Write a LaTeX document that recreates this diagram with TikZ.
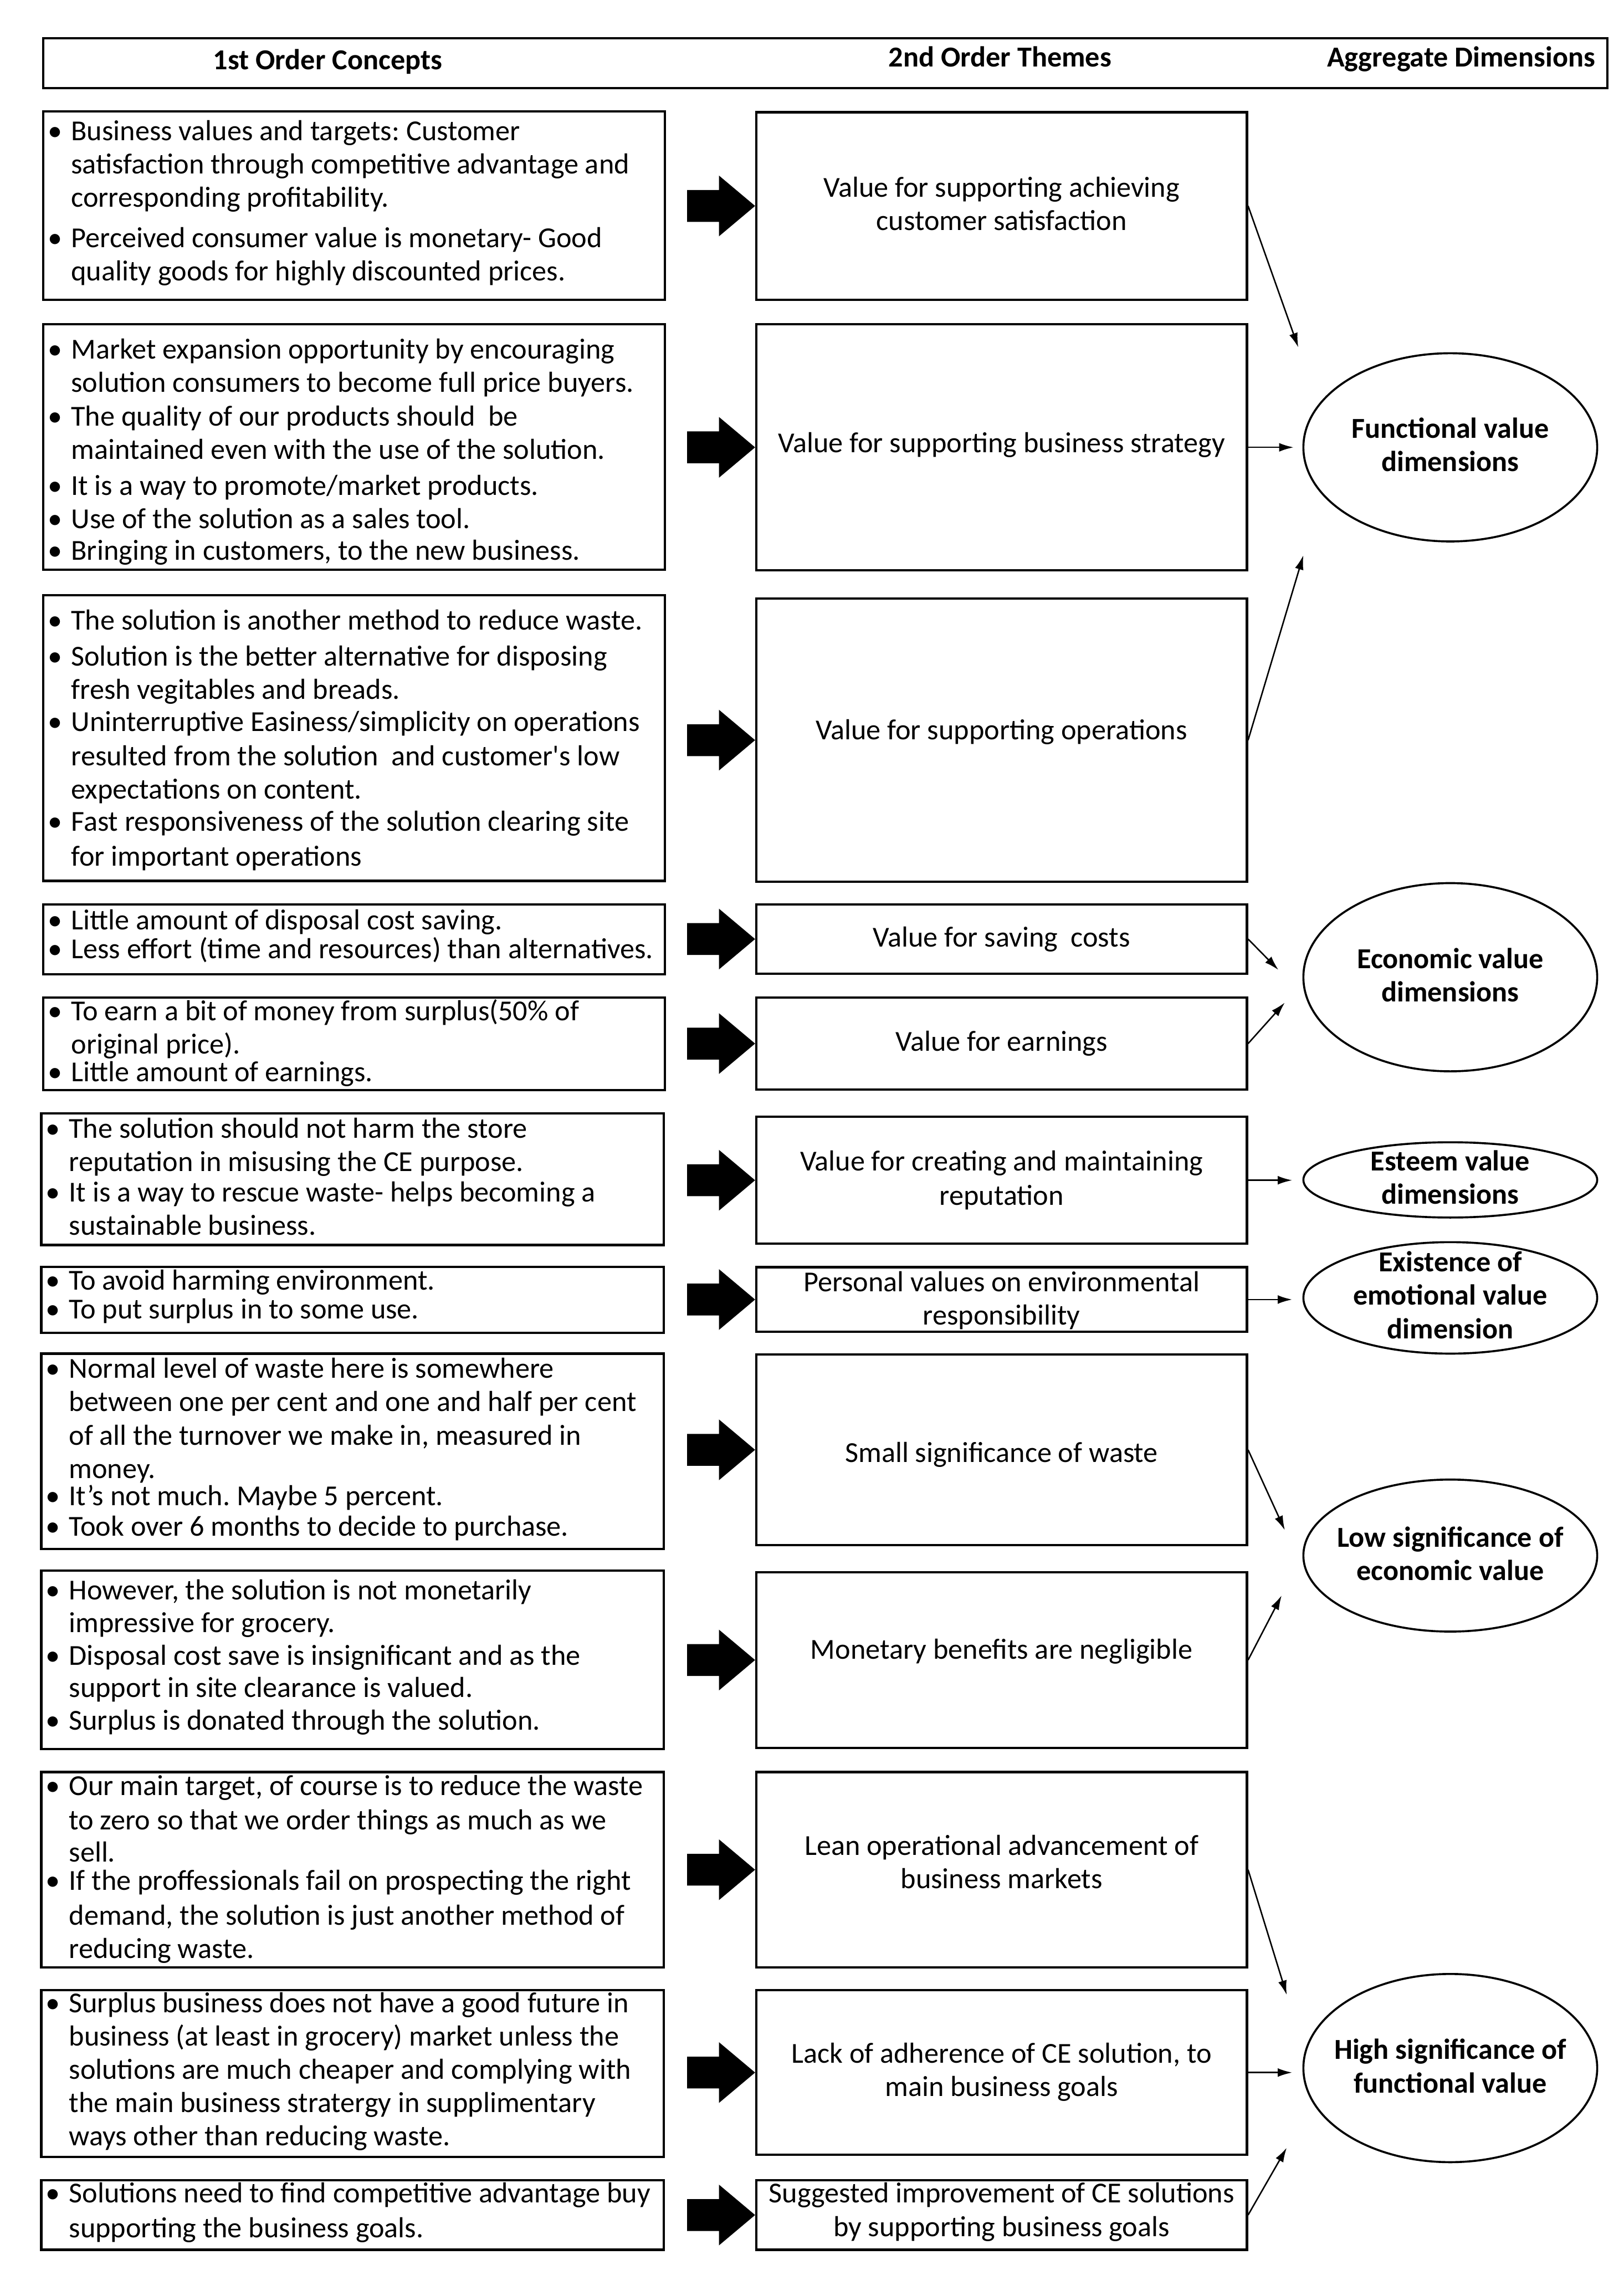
\documentclass[tikz,border=0pt]{standalone}
\usepackage{fontspec}
\setmainfont{Carlito}
\frenchspacing
\usetikzlibrary{arrows.meta,fit,shapes.geometric,calc}
\newcommand\bulit{\makebox[16pt][l]{\textbullet}}
\newcommand\contind{\hspace*{16pt}}
\newcommand\bigarrow[1]{\fill ($(#1.west)+(-47,-11)$) -- ($(#1.west)+(-25,-11)$) -- ($(#1.west)+(-25,-21)$) -- (#1.west) -- ($(#1.west)+(-25,21)$) -- ($(#1.west)+(-25,11)$) -- ($(#1.west)+(-47,11)$) -- cycle;}
\begin{document}
\begin{tikzpicture}[x=1pt,y=-1pt,
  bx/.style={draw, line width=1.6pt, inner sep=0pt, rectangle},
  lt/.style={anchor=base west, inner sep=0pt, text width=450pt, align=flush left, font=\frenchspacing\fontsize{20}{23}\selectfont},
  mt/.style={anchor=base, inner sep=0pt, text width=360pt, align=flush center, font=\frenchspacing\fontsize{20}{23}\selectfont},
  et/.style={anchor=base, inner sep=0pt, text width=200pt, align=flush center, font=\frenchspacing\bfseries\fontsize{20}{23}\selectfont},
  hd/.style={anchor=base, inner sep=0pt, font=\bfseries\fontsize{20}{23}\selectfont},
  el/.style={draw, ellipse, line width=1.4pt, inner sep=0pt, minimum width=203pt},
  con/.style={line width=1pt, -{Latex[length=10pt,width=6pt]}}
]
\fill[white] (0,0) rectangle (1122,1568);
\useasboundingbox (0,0) rectangle (1122,1568);

% header
\node[bx, fit={(30,26.5) (1110.5,61)}] (H) {};
\node[hd] (H1) at (226.5,48) {1st Order Concepts};
\node[hd] (H2) at (691,46) {2nd Order Themes};
\node[hd] (H3) at (1009.5,46) {Aggregate Dimensions};

% left boxes
\node[bx, fit={(30,77) (459.5,207)}] (L1) {};
\node[bx, fit={(30,224) (459.5,393.5)}] (L2) {};
\node[bx, fit={(30,411) (459.5,608.5)}] (L3) {};
\node[bx, fit={(30,624.7) (459.5,673)}] (L4) {};
\node[bx, fit={(30,689) (459.5,753)}] (L5) {};
\node[bx, fit={(28.5,769) (458.5,860)}] (L6) {};
\node[bx, fit={(28.5,875) (458.5,920.8)}] (L7) {};
\node[bx, fit={(28.5,935) (458.5,1070)}] (L8) {};
\node[bx, fit={(28.5,1085) (458.5,1208)}] (L9) {};
\node[bx, fit={(28.5,1224) (458.5,1359)}] (L10) {};
\node[bx, fit={(28.5,1374.7) (458.5,1490)}] (L11) {};
\node[bx, fit={(28.5,1506) (458.5,1554)}] (L12) {};

% middle boxes
\node[bx, fit={(522.5,77.5) (861.5,207)}] (M1) {};
\node[bx, fit={(522.5,224) (861.5,394)}] (M2) {};
\node[bx, fit={(522.5,413.5) (861.5,609)}] (M3) {};
\node[bx, fit={(522.5,624.8) (861.5,672.5)}] (M4) {};
\node[bx, fit={(522.5,689) (861.5,752.7)}] (M5) {};
\node[bx, fit={(522.5,771.5) (861.5,859)}] (M6) {};
\node[bx, fit={(522.5,875.3) (861.5,920)}] (M7) {};
\node[bx, fit={(522.5,935.5) (861.5,1067.4)}] (M8) {};
\node[bx, fit={(522.5,1086) (861.5,1207.3)}] (M9) {};
\node[bx, fit={(522.5,1224) (861.5,1359)}] (M10) {};
\node[bx, fit={(522.5,1374.7) (861.5,1488.5)}] (M11) {};
\node[bx, fit={(522.5,1506) (861.5,1554)}] (M12) {};

% ellipses
\node[el, minimum height=130pt] (E1) at (1002,309) {};
\node[el, minimum height=130pt] (E2) at (1002,675) {};
\node[el, minimum height=52pt] (E3) at (1002,815) {};
\node[el, minimum height=77pt] (E4) at (1002,896.5) {};
\node[el, minimum height=105pt] (E5) at (1002,1074.5) {};
\node[el, minimum height=130pt] (E6) at (1002,1428.5) {};

\node[et] (E1t) at (1002,302.5) {Functional value\\dimensions};
\node[et] (E2t) at (1002,669) {Economic value\\dimensions};
\node[et] (E3t) at (1002,808.5) {Esteem value\\dimensions};
\node[et] (E4t) at (1002,878.5) {Existence of\\emotional value\\dimension};
\node[et] (E5t) at (1002,1068.5) {Low significance of\\economic value};
\node[et] (E6t) at (1002,1422.5) {High significance of\\functional value};

% left texts
\node[lt] (L1t) at (33,97) {\bulit Business values and targets: Customer\\
\contind satisfaction through competitive advantage and\\
\contind corresponding profitability.\\[5pt]
\bulit Perceived consumer value is monetary- Good\\
\contind quality goods for highly discounted prices.};

\node[lt] (L2t) at (33,248) {\bulit Market expansion opportunity by encouraging\\
\contind solution consumers to become full price buyers.\\
\bulit The quality of our products should~~be\\
\contind maintained even with the use of the solution.\\[2pt]
\bulit It is a way to promote/market products.\\
\bulit Use of the solution as a sales tool.\\[-1pt]
\bulit Bringing in customers, to the new business.};

\node[lt] (L3t) at (33,435) {\bulit The solution is another method to reduce waste.\\[2pt]
\bulit Solution is the better alternative for disposing\\
\contind fresh vegitables and breads.\\[-1pt]
\bulit Uninterruptive Easiness/simplicity on operations\\[1pt]
\contind resulted from the solution~~and customer\textquotesingle s low\\
\contind expectations on content.\\[-1pt]
\bulit Fast responsiveness of the solution clearing site\\[1pt]
\contind for important operations};

\node[lt] (L4t) at (33,642) {\bulit Little amount of disposal cost saving.\\[-3pt]
\bulit Less effort (time and resources) than alternatives.};

\node[lt] (L5t) at (33,705) {\bulit To earn a bit of money from surplus(50\% of\\
\contind original price).\\[-4pt]
\bulit Little amount of earnings.};

\node[lt] (L6t) at (31.5,786) {\bulit The solution should not harm the store\\
\contind reputation in misusing the CE purpose.\\[-2pt]
\bulit It is a way to rescue waste- helps becoming a\\
\contind sustainable business.};

\node[lt] (L7t) at (31.5,891) {\bulit To avoid harming environment.\\[-3pt]
\bulit To put surplus in to some use.};

\node[lt] (L8t) at (31.5,952) {\bulit Normal level of waste here is somewhere\\
\contind between one per cent and one and half per cent\\
\contind of all the turnover we make in, measured in\\
\contind money.\\[-4pt]
\bulit It’s not much. Maybe 5 percent.\\[-2pt]
\bulit Took over 6 months to decide to purchase.};

\node[lt] (L9t) at (31.5,1105) {\bulit However, the solution is not monetarily\\[-0.5pt]
\contind impressive for grocery.\\[-0.5pt]
\bulit Disposal cost save is insignificant and as the\\[-0.5pt]
\contind support in site clearance is valued.\\[-0.5pt]
\bulit Surplus is donated through the solution.};

\node[lt] (L10t) at (31.5,1240) {\bulit Our main target, of course is to reduce the waste\\[1pt]
\contind to zero so that we order things as much as we\\[-1pt]
\contind sell.\\[-3.5pt]
\bulit If the proffessionals fail on prospecting the right\\[1pt]
\contind demand, the solution is just another method of\\
\contind reducing waste.};

\node[lt] (L11t) at (31.5,1390) {\bulit Surplus business does not have a good future in\\
\contind business (at least in grocery) market unless the\\
\contind solutions are much cheaper and complying with\\
\contind the main business stratergy in supplimentary\\
\contind ways other than reducing waste.};

\node[lt] (L12t) at (31.5,1521.5) {\bulit Solutions need to find competitive advantage buy\\[1pt]
\contind supporting the business goals.};

% middle texts
\node[mt] (M1t) at (692,136) {Value for supporting achieving\\customer satisfaction};
\node[mt] (M2t) at (692,312.5) {Value for supporting business strategy};
\node[mt] (M3t) at (692,511) {Value for supporting operations};
\node[mt] (M4t) at (692,654) {Value for saving~~costs};
\node[mt] (M5t) at (692,726) {Value for earnings};
\node[mt] (M6t) at (692,808.5) {Value for creating and maintaining\\[1pt]reputation};
\node[mt] (M7t) at (692,892) {Personal values on environmental\\responsibility};
\node[mt] (M8t) at (692,1010) {Small significance of waste};
\node[mt] (M9t) at (692,1146) {Monetary benefits are negligible};
\node[mt] (M10t) at (692,1281.5) {Lean operational advancement of\\business markets};
\node[mt] (M11t) at (692,1425) {Lack of adherence of CE solution, to\\main business goals};
\node[mt] (M12t) at (692,1521.5) {Suggested improvement of CE solutions\\[0.5pt]by supporting business goals};

% big block arrows
\foreach \m in {M1,M2,M3,M4,M5,M6,M7,M8,M9,M10,M11,M12} {\bigarrow{\m}}

% connector end points
\coordinate (t1) at (897,240);
\coordinate (t3) at (900.5,383.5);
\coordinate (t4) at (883.3,670);
\coordinate (t5) at (887.7,692.5);
\coordinate (t8) at (887.7,1057);
\coordinate (t9) at (885.5,1102);
\coordinate (t10) at (889,1378);
\coordinate (t12) at (889,1483.5);

\draw[con] (M1.east) -- (t1);
\draw[con, shorten >=6pt] (M2.east) -- (M2.east -| E1.west);
\draw[con] (M3.east) -- (t3);
\draw[con] (M4.east) -- (t4);
\draw[con] (M5.east) -- (t5);
\draw[con, shorten >=7pt] (M6.east) -- (M6.east -| E3.west);
\draw[con, shorten >=7pt] (M7.east) -- (M7.east -| E4.west);
\draw[con] (M8.east) -- (t8);
\draw[con] (M9.east) -- (t9);
\draw[con] (M10.east) -- (t10);
\draw[con, shorten >=7pt] (M11.east) -- (M11.east -| E6.west);
\draw[con] (M12.east) -- (t12);
\end{tikzpicture}
\end{document}
